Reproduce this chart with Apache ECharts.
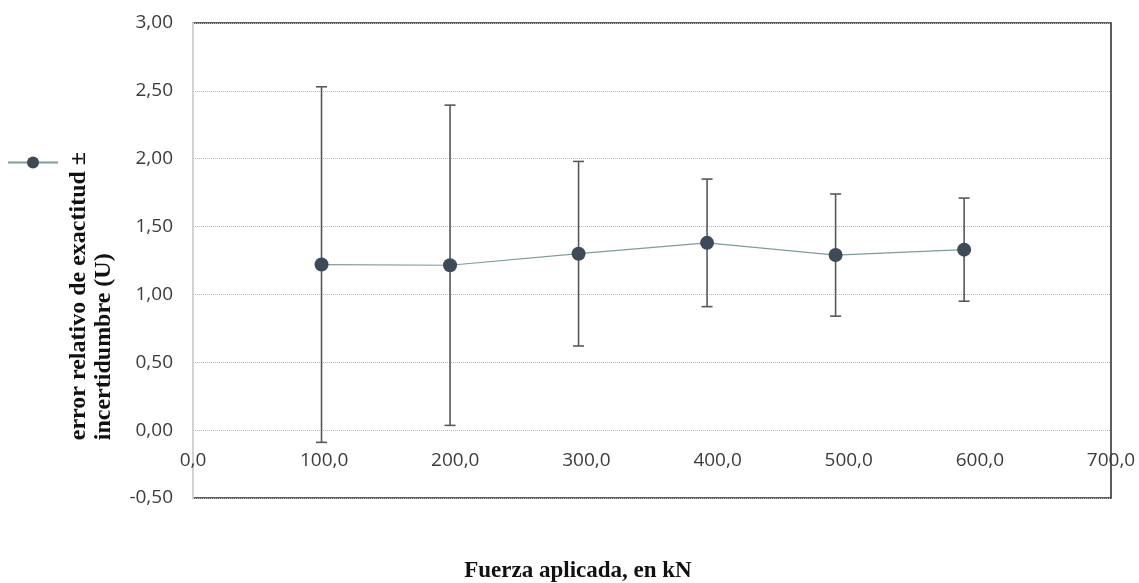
<!DOCTYPE html>
<html>
<head>
<meta charset="utf-8">
<script src="https://cdn.jsdelivr.net/npm/echarts@6/dist/echarts.min.js"></script>
<style>
html,body{margin:0;padding:0;background:#fff;}
#c{width:1139px;height:583px;}
</style>
</head>
<body>
<div id="c"></div>
<script>
// Data
const forceKN = [98, 196, 294, 392, 490, 588];
const relError = [1.22, 1.215, 1.30, 1.38, 1.29, 1.33];
const uncertaintyU = [1.31, 1.18, 0.68, 0.47, 0.45, 0.38];
const yTitleLines = ['error relativo de exactitud \u00b1', 'incertidumbre (U)'];
const xTitle = 'Fuerza aplicada, en kN';
const seriesName = 'error relativo de exactitud \u00b1 incertidumbre (U)';

const pointData = forceKN.map((x, i) => [x, relError[i]]);
const errData = forceKN.map((x, i) => [x, relError[i] - uncertaintyU[i], relError[i] + uncertaintyU[i]]);

const chart = echarts.init(document.getElementById('c'), null, {renderer: 'canvas'});
const labelFont = '"Open Sans", sans-serif';
const serifBold = 'bold 24px "Liberation Serif", "Times New Roman", serif';

chart.setOption({
  animation: false,
  backgroundColor: '#ffffff',
  grid: {
    left: 193, right: 28, top: 23, bottom: 85,
    show: true, borderColor: '#2a2a2a', borderWidth: 1.5, backgroundColor: 'transparent'
  },
  legend: {
    left: 2, top: 150,
    itemWidth: 50, itemHeight: 15,
    formatter: () => '',
    data: [seriesName],
    textStyle: {fontSize: 1}
  },
  xAxis: {
    type: 'value', min: 0, max: 700, interval: 100,
    offset: -68,
    axisLine: {show: false, onZero: false},
    axisTick: {show: false},
    splitLine: {show: false},
    axisLabel: {
      margin: 21, color: '#3c3c3c', fontSize: 19, fontFamily: labelFont,
      formatter: v => v.toFixed(1).replace('.', ',')
    }
  },
  yAxis: {
    type: 'value', min: -0.5, max: 3, interval: 0.5,
    axisLine: {show: true, lineStyle: {color: '#d2d2d2', width: 2}},
    axisTick: {show: false},
    splitLine: {show: true, lineStyle: {color: '#b8b8b8', type: 'dotted', width: 1}},
    axisLabel: {
      margin: 20, color: '#3c3c3c', fontSize: 19, fontFamily: labelFont,
      formatter: v => v.toFixed(2).replace('.', ',')
    }
  },
  graphic: [
    {
      type: 'text', left: 66, top: 152, rotation: Math.PI / 2, z: 10,
      style: {
        text: yTitleLines.join('\n'),
        font: serifBold,
        fill: '#111', lineHeight: 25, align: 'left'
      }
    },
    {
      type: 'text', x: 578, y: 571, z: 10,
      style: {
        text: xTitle,
        font: 'bold 23px "Liberation Serif", "Times New Roman", serif',
        fill: '#111', align: 'center', verticalAlign: 'middle'
      }
    }
  ],
  series: [
    {
      type: 'custom',
      name: 'U',
      data: errData,
      z: 3,
      renderItem: function (params, api) {
        const x = api.value(0);
        const lo = api.coord([x, api.value(1)]);
        const hi = api.coord([x, api.value(2)]);
        const cap = 5.5;
        const style = {stroke: '#55595d', lineWidth: 1.6};
        return {
          type: 'group',
          children: [
            {type: 'line', shape: {x1: lo[0], y1: lo[1], x2: hi[0], y2: hi[1]}, style},
            {type: 'line', shape: {x1: lo[0] - cap, y1: lo[1], x2: lo[0] + cap, y2: lo[1]}, style},
            {type: 'line', shape: {x1: hi[0] - cap, y1: hi[1], x2: hi[0] + cap, y2: hi[1]}, style}
          ]
        };
      }
    },
    {
      type: 'line',
      name: seriesName,
      data: pointData,
      z: 4,
      symbol: 'circle',
      symbolSize: 14,
      lineStyle: {color: '#7e9c9c', width: 1.2},
      itemStyle: {color: '#3d4b58'},
      emphasis: {disabled: true}
    }
  ]
});
</script>
</body>
</html>
